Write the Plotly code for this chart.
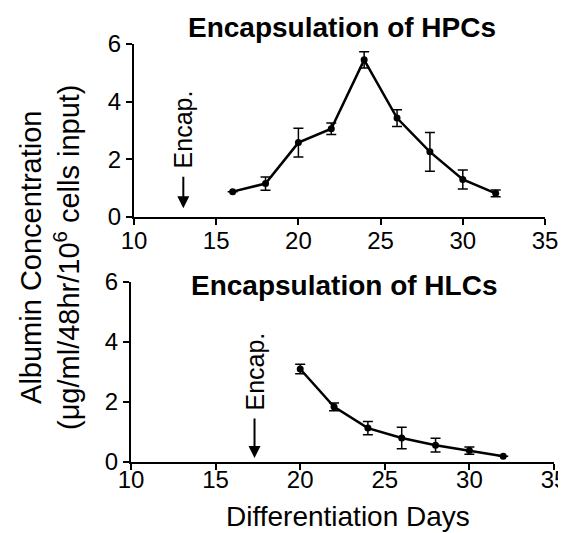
import plotly.graph_objects as go

days_hpc = [16, 18, 20, 22, 24, 26, 28, 30, 32]
alb_hpc = [0.88, 1.16, 2.58, 3.06, 5.45, 3.43, 2.26, 1.30, 0.82]
err_hpc = [0.0, 0.23, 0.50, 0.20, 0.28, 0.29, 0.67, 0.33, 0.12]

days_hlc = [20, 22, 24, 26, 28, 30, 32]
alb_hlc = [3.10, 1.84, 1.13, 0.80, 0.56, 0.38, 0.19]
err_hlc = [0.16, 0.13, 0.22, 0.36, 0.23, 0.12, 0.0]

encap_hpc = 13
encap_hlc = 17.3

x_ticks = [10, 15, 20, 25, 30, 35]
y_ticks = [0, 2, 4, 6]

FONT = "Liberation Sans, Arial, Helvetica, sans-serif"

fig = go.Figure()

def trace(x, y, e, xa, ya):
    return go.Scatter(
        x=x, y=y, xaxis=xa, yaxis=ya, mode="lines+markers",
        line=dict(color="black", width=2.5),
        marker=dict(color="black", size=7),
        error_y=dict(type="data", array=e, visible=True, color="black",
                     thickness=1.5, width=5),
        showlegend=False, cliponaxis=False,
    )

fig.add_trace(trace(days_hpc, alb_hpc, err_hpc, "x", "y"))
fig.add_trace(trace(days_hlc, alb_hlc, err_hlc, "x2", "y2"))

axis_common = dict(
    showline=True, linecolor="black", linewidth=2, ticks="outside",
    ticklen=6, tickwidth=2, tickcolor="black", showgrid=False, zeroline=False,
    tickfont=dict(family=FONT, size=24, color="black"), mirror=False,
    automargin=False,
)

W, H = 566, 533
fig.update_layout(
    width=W, height=H, margin=dict(l=0, r=0, t=0, b=0, pad=0, autoexpand=False),
    plot_bgcolor="white", paper_bgcolor="white",
    xaxis=dict(domain=[126 / W, 537 / W], range=[10, 35], tickvals=x_ticks,
               anchor="y", ticklabelstandoff=-5, **axis_common),
    yaxis=dict(domain=[1 - 209 / H, 1 - 36 / H], range=[0, 6], tickvals=y_ticks,
               anchor="x", ticklabelstandoff=0, **axis_common),
    xaxis2=dict(domain=[123 / W, 546 / W], range=[10, 35], tickvals=x_ticks,
                anchor="y2", ticklabelstandoff=-11, **axis_common),
    yaxis2=dict(domain=[1 - 454 / H, 1 - 274 / H], range=[0, 6], tickvals=y_ticks,
                anchor="x2", ticklabelstandoff=0, **axis_common),
)

def ann(text, x, y, size, xref="paper", yref="paper", angle=0):
    return dict(text=text, x=x, y=y, xref=xref, yref=yref, showarrow=False,
                xanchor="center", yanchor="middle", textangle=angle,
                font=dict(family=FONT, size=size, color="black"))

annotations = [
    ann("<b>Encapsulation of HPCs</b>", 334 / W, 1 - 20 / H, 28),
    ann("<b>Encapsulation of HLCs</b>", 336 / W, 1 - 277 / H, 28),
    ann("Differentiation Days", 340 / W, 1 - 508 / H, 28),
    ann("Albumin Concentration<br>(μg/ml/48hr/10<sup>6</sup> cells input)",
        42 / W, 1 - 249 / H, 29, angle=-90),
    dict(x=encap_hpc, y=0.3, xref="x", yref="y", ax=encap_hpc, ay=1.45,
         axref="x", ayref="y", showarrow=True, arrowhead=2, arrowsize=1.2,
         arrowwidth=2, arrowcolor="black", text=""),
    ann("Encap.", encap_hpc, 3.05, 25, xref="x", yref="y", angle=-90),
    dict(x=encap_hlc, y=0.13, xref="x2", yref="y2", ax=encap_hlc, ay=1.5,
         axref="x2", ayref="y2", showarrow=True, arrowhead=2, arrowsize=1.2,
         arrowwidth=2, arrowcolor="black", text=""),
    ann("Encap.", encap_hlc, 3.0, 25, xref="x2", yref="y2", angle=-90),
]
fig.update_layout(annotations=annotations)

fig.write_html("out.html")
